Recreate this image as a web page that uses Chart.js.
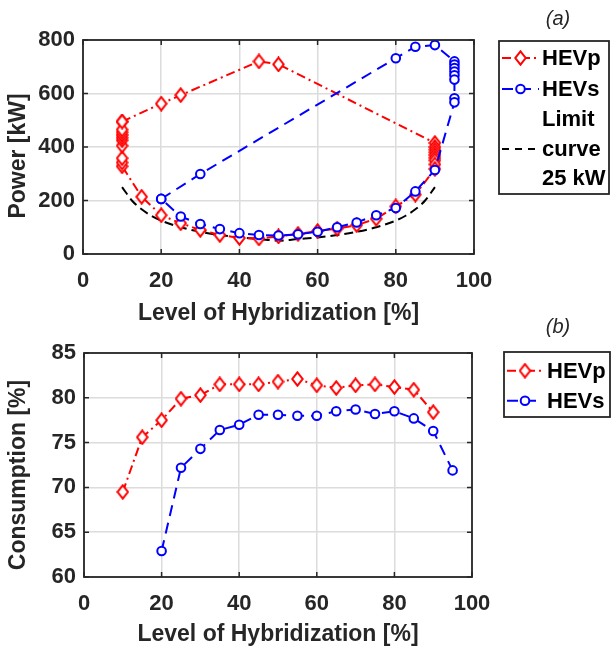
<!DOCTYPE html>
<html><head><meta charset="utf-8">
<script src="https://cdn.jsdelivr.net/npm/chart.js@4"></script>
<style>
html,body{margin:0;padding:0;background:#fff;}
#wrap{position:relative;width:614px;height:648px;overflow:hidden;background:#fff;}
canvas{position:absolute;left:0;}
#c1{top:0}
#c2{top:310px}
</style></head><body>
<div id="wrap"><canvas id="c1" width="614" height="330"></canvas><canvas id="c2" width="614" height="338"></canvas></div>
<script>
// ---- Data ----
// (a) Power vs. level of hybridization
const hevpLoH   = [10, 20, 25, 45, 50, 90, 90, 90, 90, 90, 90, 90, 90, 90, 85, 80, 75, 70, 65, 60, 55, 50, 45, 40, 35, 30, 25, 20, 15, 10, 10, 10, 10, 10, 10, 10, 10, 10, 10];
const hevpPower = [495, 562, 594, 720, 709, 415, 400, 390, 380, 370, 360, 350, 335, 318, 222, 178, 132, 108, 95, 86, 75, 66, 58, 60, 71, 90, 115, 145, 214, 328, 342, 358, 405, 425, 435, 445, 455, 465, 495];
const hevsLoH   = [20, 30, 80, 85, 90, 95, 95, 95, 95, 95, 95, 95, 95, 90, 85, 80, 75, 70, 65, 60, 55, 50, 45, 40, 35, 30, 25, 20];
const hevsPower = [206, 299, 732, 775, 781, 720, 708, 695, 682, 668, 652, 582, 567, 314, 234, 172, 145, 118, 100, 83, 74, 69, 71, 78, 93, 112, 140, 206];
const limitLoH   = [10, 12.5, 15, 17.5, 20, 25, 30, 35, 40, 45, 50, 55, 60, 65, 70, 75, 80, 82.5, 85, 87.5, 90];
const limitPower = [250, 200, 167, 143, 125, 100, 83, 71, 62, 56, 50, 56, 62, 71, 83, 100, 125, 143, 167, 200, 250];
// (b) Consumption vs. level of hybridization
const consLoHp = [10, 15, 20, 25, 30, 35, 40, 45, 50, 55, 60, 65, 70, 75, 80, 85, 90];
const consHEVp = [69.5, 75.6, 77.5, 79.9, 80.3, 81.5, 81.5, 81.5, 81.8, 82.1, 81.4, 81.1, 81.4, 81.5, 81.2, 80.9, 78.4];
const consLoHs = [20, 25, 30, 35, 40, 45, 50, 55, 60, 65, 70, 75, 80, 85, 90, 95];
const consHEVs = [62.9, 72.2, 74.3, 76.4, 77.0, 78.1, 78.1, 78.0, 78.0, 78.5, 78.7, 78.2, 78.5, 77.7, 76.3, 71.9];
// Tick labels
const xTicks = [0, 20, 40, 60, 80, 100];
const powerTicks = [0, 200, 400, 600, 800];
const consTicks = [60, 65, 70, 75, 80, 85];

// ---- helpers ----
const FONT = 'Liberation Sans, Arial, sans-serif';
Chart.defaults.font.family = FONT;
const toXY = (xs, ys) => xs.map((x, i) => ({x: x, y: ys[i]}));
function makeDiamond(color) {
  const c = document.createElement('canvas'); c.width = 13; c.height = 16;
  const g = c.getContext('2d');
  g.beginPath(); g.moveTo(6.5, 1.3); g.lineTo(11.7, 8); g.lineTo(6.5, 14.7); g.lineTo(1.3, 8); g.closePath();
  g.fillStyle = '#fff'; g.fill(); g.lineWidth = 2; g.strokeStyle = color; g.stroke();
  return c;
}
const diamond = makeDiamond('#ff0000');
const RED = '#ff0000', BLUE = '#0000ff', AX = '#262626';
const DASH_P = [9, 4, 2, 4], DASH_S = [11, 7], DASH_L = [9, 5];

function drawSample(ctx, x0, x1, y, color, dash, marker) {
  ctx.save();
  ctx.strokeStyle = color; ctx.lineWidth = 2; ctx.setLineDash(dash);
  ctx.beginPath(); ctx.moveTo(x0, y); ctx.lineTo(x1, y); ctx.stroke();
  ctx.setLineDash([]);
  const mx = (x0 + x1) / 2;
  if (marker === 'diamond') ctx.drawImage(diamond, mx - 6.5, y - 8);
  if (marker === 'circle') {
    ctx.beginPath(); ctx.arc(mx, y, 4.3, 0, Math.PI * 2);
    ctx.fillStyle = '#fff'; ctx.fill(); ctx.lineWidth = 2; ctx.strokeStyle = color; ctx.stroke();
  }
  ctx.restore();
}

const decor = {
  id: 'decor',
  afterDatasetsDraw(chart, args, o) {
    const ctx = chart.ctx, a = chart.chartArea;
    const xs = chart.scales.x, ys = chart.scales.y;
    ctx.save();
    ctx.strokeStyle = AX; ctx.lineWidth = 1.5;
    const tl = 5;
    ctx.beginPath();
    xs.ticks.forEach(t => { const p = xs.getPixelForValue(t.value);
      ctx.moveTo(p, a.bottom); ctx.lineTo(p, a.bottom - tl); ctx.moveTo(p, a.top); ctx.lineTo(p, a.top + tl); });
    ys.ticks.forEach(t => { const p = ys.getPixelForValue(t.value);
      ctx.moveTo(a.left, p); ctx.lineTo(a.left + tl, p); ctx.moveTo(a.right, p); ctx.lineTo(a.right - tl, p); });
    ctx.stroke();
    ctx.lineWidth = 1.8;
    ctx.strokeRect(a.left, a.top, a.right - a.left, a.bottom - a.top);
    ctx.restore();
  },
  afterDraw(chart, args, o) {
    const ctx = chart.ctx;
    ctx.save();
    // y title
    ctx.translate(o.yTitle.x, o.yTitle.y); ctx.rotate(-Math.PI / 2);
    ctx.font = 'bold 23px ' + FONT; ctx.fillStyle = AX; ctx.textAlign = 'center'; ctx.textBaseline = 'middle';
    ctx.fillText(o.yTitle.text, 0, 0);
    ctx.restore();
    ctx.save();
    // panel labels
    ctx.font = 'italic 20px ' + FONT; ctx.fillStyle = AX; ctx.textAlign = 'center'; ctx.textBaseline = 'middle';
    o.panels.forEach(p => ctx.fillText(p.text, p.x, p.y));
    // legend
    const L = o.legend;
    if (L) {
      ctx.fillStyle = '#fff'; ctx.fillRect(L.x, L.y, L.w, L.h);
      ctx.strokeStyle = AX; ctx.lineWidth = 1.8; ctx.strokeRect(L.x, L.y, L.w, L.h);
      ctx.font = 'bold 22px ' + FONT; ctx.fillStyle = '#000'; ctx.textAlign = 'left'; ctx.textBaseline = 'middle';
      L.items.forEach(it => {
        if (it.color) drawSample(ctx, L.sx0, L.sx1, it.y, it.color, it.dash, it.marker);
        ctx.fillStyle = '#000';
        ctx.fillText(it.text, L.tx, it.y + 1);
      });
    }
    ctx.restore();
  }
};

function scaleOpts(min, max, ticksArr, yWidth, xHeight, xTitle, titlePad) {
  return {
    x: {
      type: 'linear', min: 0, max: 100,
      afterBuildTicks: s => { s.ticks = xTicks.map(v => ({value: v})); },
      afterFit: s => { s.height = xHeight; },
      grid: {color: '#dcdcdc', lineWidth: 1.5, drawTicks: false},
      border: {display: false},
      ticks: {color: AX, font: {size: 22, weight: 'bold'}, padding: 14, maxRotation: 0, autoSkip: false},
      title: {display: true, text: xTitle, color: AX, font: {size: 23, weight: 'bold'}, padding: {top: 0, bottom: titlePad}}
    },
    y: {
      type: 'linear', min: min, max: max,
      afterBuildTicks: s => { s.ticks = ticksArr.map(v => ({value: v})); },
      afterFit: s => { s.width = yWidth; },
      grid: {color: '#dcdcdc', lineWidth: 1.5, drawTicks: false},
      border: {display: false},
      ticks: {color: AX, font: {size: 22, weight: 'bold'}, padding: 8, autoSkip: false}
    }
  };
}

new Chart(document.getElementById('c1'), {
  type: 'scatter',
  data: {datasets: [
    {label: 'HEVs', data: toXY(hevsLoH, hevsPower), showLine: true, borderColor: BLUE, borderWidth: 2, borderDash: DASH_S,
     pointStyle: 'circle', pointRadius: 4.3, pointBorderWidth: 2, pointBorderColor: BLUE, pointBackgroundColor: '#fff', tension: 0, order: 0},
    {label: 'HEVp', data: toXY(hevpLoH, hevpPower), showLine: true, borderColor: RED, borderWidth: 2, borderDash: DASH_P,
     pointStyle: diamond, pointRadius: 6, tension: 0, order: 1},
    {label: 'Limit curve 25 kW', data: toXY(limitLoH, limitPower), showLine: true, borderColor: '#000', borderWidth: 2, borderDash: DASH_L,
     pointRadius: 0, tension: 0.4, cubicInterpolationMode: 'monotone', order: 2}
  ]},
  options: {
    responsive: false, animation: false, events: [],
    layout: {padding: {top: 40, right: 140, left: 0, bottom: 0}},
    scales: scaleOpts(0, 800, powerTicks, 83, 76, 'Level of Hybridization [%]', 3),
    plugins: {
      legend: {display: false}, tooltip: {enabled: false},
      decor: {
        yTitle: {text: 'Power [kW]', x: 19, y: 156},
        panels: [{text: '(a)', x: 558, y: 19}],
        legend: {x: 499, y: 41, w: 110, h: 153, sx0: 502, sx1: 539, tx: 542,
          items: [
            {text: 'HEVp', y: 58, color: RED, dash: DASH_P, marker: 'diamond'},
            {text: 'HEVs', y: 89, color: BLUE, dash: DASH_S, marker: 'circle'},
            {text: 'Limit', y: 119},
            {text: 'curve', y: 149, color: '#000', dash: [7, 6]},
            {text: '25 kW', y: 178}
          ]}
      }
    }
  },
  plugins: [decor]
});

new Chart(document.getElementById('c2'), {
  type: 'scatter',
  data: {datasets: [
    {label: 'HEVs', data: toXY(consLoHs, consHEVs), showLine: true, borderColor: BLUE, borderWidth: 2, borderDash: DASH_S,
     pointStyle: 'circle', pointRadius: 4.3, pointBorderWidth: 2, pointBorderColor: BLUE, pointBackgroundColor: '#fff', tension: 0, order: 0},
    {label: 'HEVp', data: toXY(consLoHp, consHEVp), showLine: true, borderColor: RED, borderWidth: 2, borderDash: DASH_P,
     pointStyle: diamond, pointRadius: 6, tension: 0, order: 1}
  ]},
  options: {
    responsive: false, animation: false, events: [],
    layout: {padding: {top: 43, right: 142, left: 0, bottom: 0}},
    scales: scaleOpts(60, 85, consTicks, 84, 71, 'Level of Hybridization [%]', 0),
    plugins: {
      legend: {display: false}, tooltip: {enabled: false},
      decor: {
        yTitle: {text: 'Consumption [%]', x: 19, y: 165},
        panels: [{text: '(b)', x: 558, y: 17}],
        legend: {x: 504, y: 42, w: 106, h: 65, sx0: 507, sx1: 543, tx: 547,
          items: [
            {text: 'HEVp', y: 60.7, color: RED, dash: DASH_P, marker: 'diamond'},
            {text: 'HEVs', y: 90.7, color: BLUE, dash: DASH_S, marker: 'circle'}
          ]}
      }
    }
  },
  plugins: [decor]
});
</script>
</body></html>
